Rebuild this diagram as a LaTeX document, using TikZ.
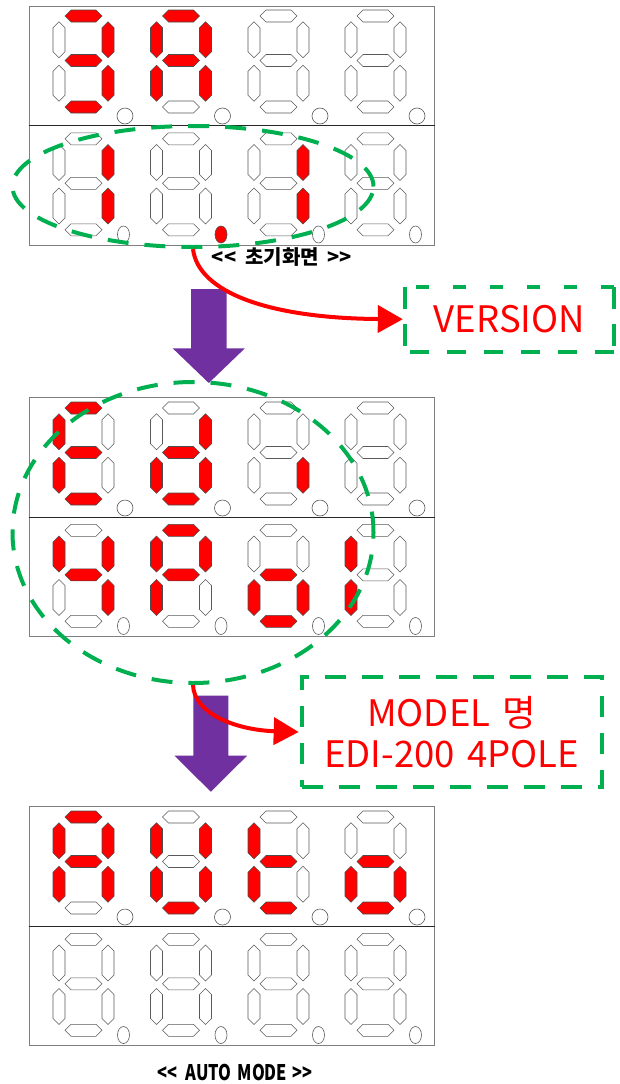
\documentclass[tikz,border=0pt]{standalone}
\usepackage{fontspec}
\newfontfamily\krfont{Noto Sans CJK KR}
\usetikzlibrary{shapes.geometric,arrows.meta}
\definecolor{segred}{HTML}{FF0000}
\definecolor{offgreen}{HTML}{00B050}
\definecolor{arrowpurple}{HTML}{7030A0}
\definecolor{panelgray}{HTML}{7F7F7F}
\tikzset{
  s0/.style={fill=white, draw=black!65, line width=0.6pt},
  s1/.style={fill=segred, draw=black!70, line width=0.6pt},
  panel/.style={draw=panelgray, line width=1pt, minimum width=405, minimum height=239, inner sep=0pt},
  divider/.style={draw=black!85, line width=1pt},
  greenring/.style={ellipse, draw=offgreen, line width=4pt, dash pattern=on 21pt off 16pt, inner sep=0pt},
  greenbox/.style={draw=offgreen, line width=4pt, dash pattern=on 21pt off 16pt, inner sep=0pt},
  greenedge/.style={draw=offgreen, line width=4pt},
  redarrow/.style={draw=segred, line width=4pt, -{Triangle[length=25pt,width=27pt]}},
  blockarrow/.style={fill=arrowpurple},
  redtext/.style={text=segred, font=\krfont\fontsize{36.5}{41.7}\selectfont, align=center},
  labeltext/.style={text=black, font=\krfont\bfseries\fontsize{20}{24}\selectfont},
}
\newcommand{\hsg}[2]{\path[#1] (-18.5,#2) -- ++(6,-6) -- ++(25,0) -- ++(6,6) -- ++(-6,6) -- ++(-25,0) -- cycle;}
\newcommand{\vsg}[3]{\path[#1] (#2,#3-18) -- ++(6,6) -- ++(0,24) -- ++(-6,6) -- ++(-6,-6) -- ++(0,-24) -- cycle;}
\newcommand{\sevseg}[9]{%
  \begin{scope}[shift={(#1,#2)}]
    \hsg{s#3}{-45.5}
    \vsg{s#4}{24.5}{-21.75}
    \vsg{s#5}{24.5}{21.75}
    \hsg{s#6}{45.5}
    \vsg{s#7}{-24.5}{21.75}
    \vsg{s#8}{-24.5}{-21.75}
    \hsg{s#9}{-1}
  \end{scope}}
\newcommand{\dpcirc}[3]{\path[s#3] (#1+41.5,#2+54.5) circle[radius=8];}
\newcommand{\dpoval}[3]{\path[s#3] (#1+40,#2+50.2) ellipse[x radius=6,y radius=8.5];}
\begin{document}
\begin{tikzpicture}[x=1pt,y=-1pt]
\useasboundingbox (0,0) rectangle (619,1084);

% ---------- panels ----------
\node[panel] (p1) at (231.5,125.5) {};
\draw[divider] (p1.west) -- (p1.east);
\node[panel] (p2) at (231.5,517) {};
\draw[divider] (p2.west) -- (p2.east);
\node[panel] (p3) at (231.5,926) {};
\draw[divider] (p3.west) -- (p3.east);

% ---------- panel 1 top: 3A ----------
\sevseg{83.5}{61.5}{1}{1}{1}{1}{0}{0}{1}   \dpcirc{83.5}{61.5}{0}
\sevseg{181}{61.5}{1}{1}{1}{0}{1}{1}{1}    \dpcirc{181}{61.5}{0}
\sevseg{278.5}{61.5}{0}{0}{0}{0}{0}{0}{0}  \dpcirc{278.5}{61.5}{0}
\sevseg{375.5}{61.5}{0}{0}{0}{0}{0}{0}{0}  \dpcirc{375.5}{61.5}{0}
% ---------- panel 1 bottom: 1 .1 ----------
\sevseg{83.5}{184.3}{0}{1}{1}{0}{0}{0}{0}  \dpoval{83.5}{184.3}{0}
\sevseg{181}{184.3}{0}{0}{0}{0}{0}{0}{0}   \dpoval{181}{184.3}{1}
\sevseg{278.5}{184.3}{0}{1}{1}{0}{0}{0}{0} \dpoval{278.5}{184.3}{0}
\sevseg{375.5}{184.3}{0}{0}{0}{0}{0}{0}{0} \dpoval{375.5}{184.3}{0}

% ---------- panel 2 top: Edi ----------
\sevseg{83.5}{453.5}{1}{0}{0}{1}{1}{1}{1}  \dpcirc{83.5}{453.5}{0}
\sevseg{181}{453.5}{0}{1}{1}{1}{1}{0}{1}   \dpcirc{181}{453.5}{0}
\sevseg{278.5}{453.5}{0}{0}{1}{0}{0}{0}{0} \dpcirc{278.5}{453.5}{0}
\sevseg{375.5}{453.5}{0}{0}{0}{0}{0}{0}{0} \dpcirc{375.5}{453.5}{0}
% ---------- panel 2 bottom: 4Pol ----------
\sevseg{83.5}{575.8}{0}{1}{1}{0}{0}{1}{1}  \dpoval{83.5}{575.8}{0}
\sevseg{181}{575.8}{1}{1}{0}{0}{1}{1}{1}   \dpoval{181}{575.8}{0}
\sevseg{278.5}{575.8}{0}{0}{1}{1}{1}{0}{1} \dpoval{278.5}{575.8}{0}
\sevseg{375.5}{575.8}{0}{0}{0}{0}{1}{1}{0} \dpoval{375.5}{575.8}{0}

% ---------- panel 3 top: AUto ----------
\sevseg{83.5}{862.5}{1}{1}{1}{0}{1}{1}{1}  \dpcirc{83.5}{862.5}{0}
\sevseg{181}{862.5}{0}{1}{1}{1}{1}{1}{0}   \dpcirc{181}{862.5}{0}
\sevseg{278.5}{862.5}{0}{0}{0}{1}{1}{1}{1} \dpcirc{278.5}{862.5}{0}
\sevseg{375.5}{862.5}{0}{0}{1}{1}{1}{0}{1} \dpcirc{375.5}{862.5}{0}
% ---------- panel 3 bottom: blank ----------
\sevseg{83.5}{984.8}{0}{0}{0}{0}{0}{0}{0}  \dpoval{83.5}{984.8}{0}
\sevseg{181}{984.8}{0}{0}{0}{0}{0}{0}{0}   \dpoval{181}{984.8}{0}
\sevseg{278.5}{984.8}{0}{0}{0}{0}{0}{0}{0} \dpoval{278.5}{984.8}{0}
\sevseg{375.5}{984.8}{0}{0}{0}{0}{0}{0}{0} \dpoval{375.5}{984.8}{0}

% ---------- labels ----------
\node[labeltext] (lab1) at (282,257) {<<\hspace{9pt}초기화면\hspace{9pt}>>};
\node[text=black, font=\krfont\bfseries\fontsize{21.5}{24}\selectfont] (lab2) at (235,1072.5) {\scalebox{0.76}[1]{<<\hspace{11pt}AUTO\hspace{8pt}MODE\hspace{7pt}>>}};

% ---------- purple block arrows ----------
\coordinate (pa1) at (208.8,289);
\fill[blockarrow] (pa1) ++(-17.8,0) -- ++(35.6,0) -- ++(0,59.3) -- ++(18.3,0) -- ++(-36.1,34.7) -- ++(-36.1,-34.7) -- ++(18.3,0) -- cycle;
\coordinate (pa2) at (210.8,695.7);
\fill[blockarrow] (pa2) ++(-17.5,0) -- ++(35,0) -- ++(0,60) -- ++(18.8,0) -- ++(-36.3,36) -- ++(-36.3,-36) -- ++(18.8,0) -- cycle;

% ---------- green dashed rings ----------
\node[greenring, minimum width=361, minimum height=121] (e1) at (193,186.5) {};
\node[greenring, minimum width=361, minimum height=301] (e2) at (193,532.5) {};

% ---------- green dashed boxes ----------
\node[redtext, minimum width=209, minimum height=65, inner sep=0pt] (b1) at (509.5,319.2) {VERSION};
\draw[greenedge, dash pattern=on 13pt off 24pt] (b1.north east) -- (b1.north west);
\draw[greenedge, dash pattern=on 19pt off 18pt] (b1.south east) -- (b1.south west);
\draw[greenedge, dash pattern=on 22pt off 15pt] (b1.north west) -- (b1.south west);
\draw[greenedge, dash pattern=on 22pt off 15pt] (b1.north east) -- (b1.south east);
\node[greenbox, redtext, minimum width=300, minimum height=110.6] (b2) at (451.7,732) {MODEL\hspace{4pt} 명\\EDI-200\hspace{4pt} 4POLE};

% ---------- red curved arrows ----------
\draw[redarrow] (e1.south) .. controls +(5,43) and +(-135,-1) .. ([xshift=-2pt]b1.west);
\draw[redarrow] (e2.south) .. controls +(1,29) and +(-62,-2) .. ([xshift=-1pt]b2.west);
\end{tikzpicture}
\end{document}
